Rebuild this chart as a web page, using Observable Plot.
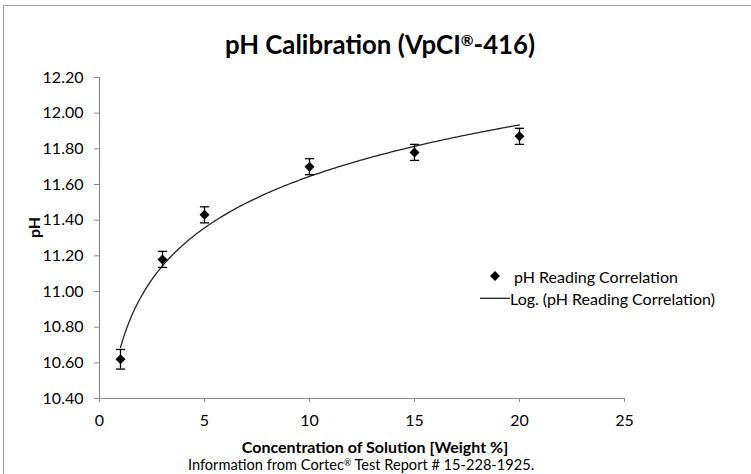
<!DOCTYPE html>
<html>
<head>
<meta charset="utf-8">
<script src="https://cdn.jsdelivr.net/npm/d3@7"></script>
<script src="https://cdn.jsdelivr.net/npm/@observablehq/plot@0.6"></script>
<style>
  html, body { margin: 0; padding: 0; background: #fff; }
  #wrap { position: relative; width: 751px; height: 474px; overflow: hidden; font-family: Lato, "Open Sans", sans-serif; color: #000; background: #fff; }
  #frame { position: absolute; left: 3px; top: 5px; width: 800px; height: 600px; border-left: 1.4px solid #a0a0a0; border-top: 1.4px solid #a0a0a0; }
  #title { position: absolute; left: 0; top: 29px; width: 760px; text-align: center; font-weight: 700; font-size: 25.8px; line-height: 30px; white-space: nowrap; }
  #chart { position: absolute; left: 0; top: 62px; }
  .reg { font-size: 0.6em; position: relative; top: -0.5em; }
  .leg { position: absolute; font-size: 16px; line-height: 20px; white-space: nowrap; }
  .sym { position: absolute; }
  #caption { position: absolute; left: 0; top: 456.4px; width: 722px; text-align: center; font-size: 14.6px; line-height: 18px; white-space: nowrap; }
</style>
</head>
<body>
<div id="wrap">
  <div id="frame"></div>
  <div id="title"></div>
  <div id="chart"></div>
  <svg class="sym" style="left:488px;top:269px" width="14" height="14"><path d="M7,2 L12,7 L7,12 L2,7 Z" fill="#000"/></svg>
  <div class="leg" id="leg1" style="left:514px;top:267.4px"></div>
  <svg class="sym" style="left:480px;top:293px" width="32" height="10"><line x1="0" y1="5.3" x2="30" y2="5.3" stroke="#222" stroke-width="1.3"/></svg>
  <div class="leg" id="leg2" style="left:510px;top:289.1px"></div>
  <div id="caption"></div>
</div>
<script>
// ---- data ----
const concentration = [1, 3, 5, 10, 15, 20];
const phReading = [10.62, 11.18, 11.43, 11.70, 11.78, 11.87];
const phError = [0.055, 0.045, 0.045, 0.045, 0.045, 0.045];
const xTicks = [0, 5, 10, 15, 20, 25];
const yTicks = [10.4, 10.6, 10.8, 11.0, 11.2, 11.4, 11.6, 11.8, 12.0, 12.2];
const titleText = "pH Calibration (VpCI®-416)";
const xTitle = "Concentration of Solution [Weight %]";
const yTitle = "pH";
const seriesName = "pH Reading Correlation";
const trendName = "Log. (pH Reading Correlation)";
const captionText = "Information from Cortec® Test Report # 15-228-1925.";

// ---- text ----
function withReg(s) {
  return s.split("®").map(t => t.replace(/&/g, "&amp;").replace(/</g, "&lt;")).join('<span class="reg">®</span>');
}
document.getElementById("title").innerHTML = withReg(titleText);
document.getElementById("caption").innerHTML = withReg(captionText);
document.getElementById("leg1").textContent = seriesName;
document.getElementById("leg2").textContent = trendName;

// ---- data table ----
const points = concentration.map((c, i) => ({
  x: c, y: phReading[i], lo: phReading[i] - phError[i], hi: phReading[i] + phError[i]
}));

// logarithmic least-squares trendline (y = a + b ln x), as Excel computes it
const lx = concentration.map(Math.log);
const mx = d3.mean(lx), my = d3.mean(phReading);
const b = d3.sum(lx, (v, i) => (v - mx) * (phReading[i] - my)) / d3.sum(lx, v => (v - mx) ** 2);
const a = my - b * mx;
const xMin = d3.min(concentration), xMax = d3.max(concentration);
const trend = d3.range(0, 191).map(i => {
  const x = xMin + (xMax - xMin) * i / 190;
  return {x, y: a + b * Math.log(x)};
});

const capSymbol = { draw(ctx) { ctx.moveTo(-4.6, 0); ctx.lineTo(4.6, 0); } };
const axisColor = "#8c8c8c";
const font = "Lato, 'Open Sans', sans-serif";

const chart = Plot.plot({
  width: 751,
  height: 394,
  marginLeft: 99,
  marginRight: 127,
  marginTop: 15,
  marginBottom: 58,
  style: { fontFamily: font, fontSize: "16px", color: "#000", background: "transparent" },
  x: { domain: [0, 25] },
  y: { domain: [10.4, 12.2] },
  marks: [
    Plot.axisY({ ticks: yTicks, tickFormat: d3.format(".2f"), tickSize: 5, tickPadding: 11, stroke: axisColor, fill: "#000", fontSize: 16, label: null }),
    Plot.axisX({ ticks: xTicks, tickFormat: d3.format("d"), tickSize: 4, tickPadding: 12, stroke: axisColor, fill: "#000", fontSize: 16, label: null }),
    Plot.ruleX([0], { stroke: axisColor, strokeWidth: 1.2 }),
    Plot.ruleY([10.4], { stroke: axisColor, strokeWidth: 1.2 }),
    Plot.line(trend, { x: "x", y: "y", stroke: "#222", strokeWidth: 1.3 }),
    Plot.ruleX(points, { x: "x", y1: "lo", y2: "hi", stroke: "#000", strokeWidth: 1.3 }),
    Plot.dot(points, { x: "x", y: "hi", symbol: capSymbol, r: 4, fill: "none", stroke: "#000", strokeWidth: 1.3 }),
    Plot.dot(points, { x: "x", y: "lo", symbol: capSymbol, r: 4, fill: "none", stroke: "#000", strokeWidth: 1.3 }),
    Plot.dot(points, { x: "x", y: "y", symbol: "diamond2", r: 4.5, fill: "#000", stroke: "none" }),
    Plot.text([xTitle], { text: d => d, frameAnchor: "bottom", lineAnchor: "bottom", dy: 54, dx: 13, fontWeight: "bold", fontSize: 16, fill: "#000" }),
    Plot.text([yTitle], { text: d => d, frameAnchor: "left", rotate: -90, dx: -65, fontWeight: "bold", fontSize: 16, fill: "#000" })
  ]
});
document.getElementById("chart").appendChild(chart);
</script>
</body>
</html>
